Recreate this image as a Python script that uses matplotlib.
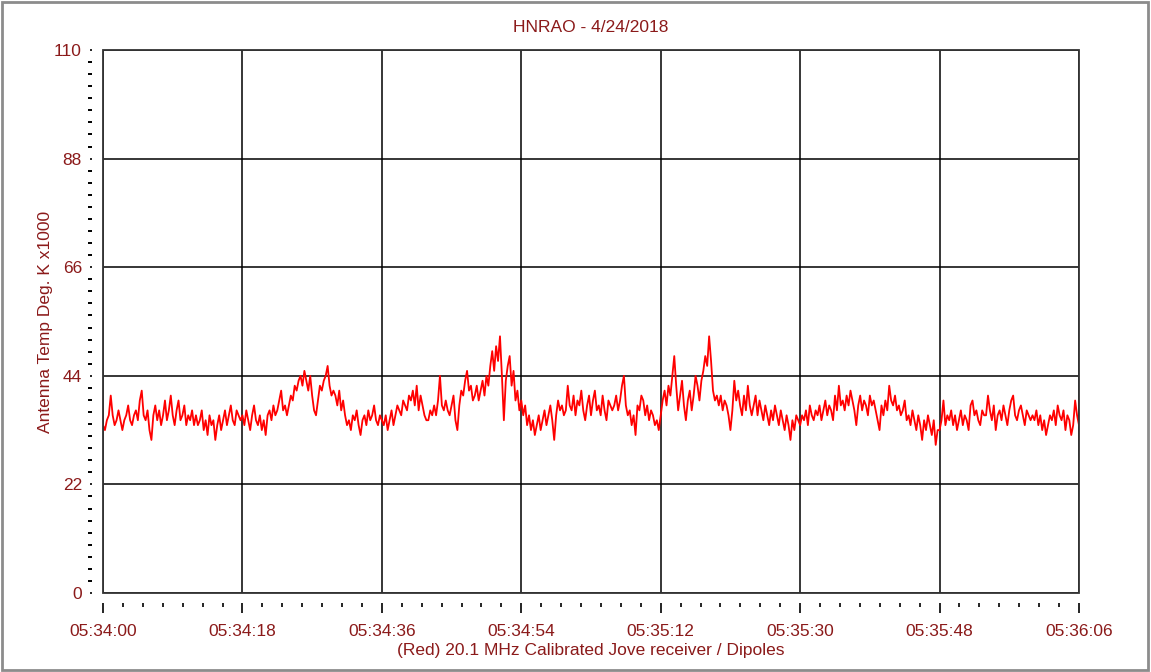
import numpy as np
import matplotlib
matplotlib.use("Agg")
import matplotlib.pyplot as plt
from matplotlib.ticker import FixedLocator, FuncFormatter
from matplotlib.patches import Rectangle

plt.rcParams['font.family'] = ['Liberation Sans', 'DejaVu Sans']

TITLE = "HNRAO - 4/24/2018"
XLABEL = "(Red) 20.1 MHz Calibrated Jove receiver / Dipoles"
YLABEL = "Antenna Temp Deg. K x1000"
START_MIN, START_SEC = 34, 0          # 05:34:00
SAMPLE_STEP = 0.25                    # seconds between samples
Y_TICKS = [0, 22, 44, 66, 88, 110]
X_TICKS = [0, 18, 36, 54, 72, 90, 108, 126]

# antenna temperature (K x1000), one row = 6 s
temps = [
    34, 33, 35, 36, 40, 36, 34, 35, 37, 35, 33, 35, 36, 38, 35, 34, 36, 37, 35, 39, 41, 36, 35, 37,
    33, 31, 36, 38, 35, 37, 34, 36, 39, 35, 37, 40, 36, 34, 37, 39, 35, 36, 38, 34, 36, 35, 37, 34,
    36, 34, 35, 37, 33, 35, 32, 36, 34, 35, 31, 34, 36, 33, 35, 37, 34, 36, 38, 35, 34, 37, 36, 35,
    36, 34, 37, 35, 33, 36, 38, 35, 34, 36, 33, 35, 32, 36, 37, 35, 38, 36, 37, 39, 41, 37, 38, 36,
    38, 40, 39, 42, 41, 43, 44, 42, 45, 43, 41, 44, 40, 37, 36, 39, 42, 41, 43, 44, 46, 42, 40, 41,
    40, 38, 41, 37, 39, 36, 34, 35, 33, 36, 35, 37, 34, 32, 35, 36, 34, 37, 35, 36, 38, 35, 34, 36,
    35, 34, 36, 33, 35, 37, 34, 36, 38, 37, 36, 39, 38, 37, 40, 39, 41, 38, 42, 37, 40, 38, 36, 35,
    35, 37, 36, 38, 36, 39, 44, 38, 37, 39, 37, 36, 38, 40, 35, 33, 38, 41, 40, 43, 45, 41, 42, 39,
    40, 42, 39, 41, 43, 40, 44, 42, 46, 49, 45, 50, 47, 52, 44, 35, 43, 46, 48, 42, 45, 39, 41, 37,
    39, 36, 38, 34, 36, 33, 35, 32, 34, 36, 33, 35, 37, 34, 36, 38, 35, 31, 36, 39, 37, 38, 36, 37,
    42, 38, 37, 40, 36, 39, 38, 41, 37, 35, 38, 40, 36, 39, 41, 37, 38, 36, 40, 37, 35, 39, 38, 37,
    38, 40, 37, 39, 42, 44, 38, 36, 37, 34, 36, 32, 38, 37, 40, 39, 36, 38, 35, 37, 36, 34, 35, 33,
    36, 39, 41, 38, 42, 40, 44, 48, 42, 37, 40, 43, 38, 35, 39, 41, 37, 40, 44, 42, 39, 43, 45, 48,
    46, 52, 47, 41, 39, 40, 38, 40, 37, 39, 38, 36, 33, 37, 43, 39, 41, 38, 36, 40, 37, 42, 38, 36,
    38, 40, 36, 39, 37, 35, 38, 36, 34, 37, 35, 38, 36, 34, 37, 35, 33, 36, 34, 31, 35, 33, 36, 35,
    34, 36, 35, 37, 34, 38, 36, 35, 37, 36, 38, 35, 37, 39, 36, 38, 37, 35, 40, 37, 42, 38, 39, 37,
    40, 38, 41, 39, 37, 34, 38, 40, 37, 39, 38, 36, 40, 38, 39, 37, 35, 33, 38, 36, 39, 37, 42, 39,
    38, 40, 37, 38, 36, 37, 39, 35, 36, 34, 37, 35, 33, 36, 34, 31, 35, 33, 36, 34, 32, 35, 30, 33,
    33, 35, 39, 34, 36, 35, 37, 34, 36, 33, 35, 37, 34, 36, 35, 33, 38, 39, 36, 37, 35, 34, 37, 36,
    36, 40, 37, 35, 38, 33, 36, 37, 35, 38, 36, 34, 37, 39, 40, 36, 35, 37, 38, 36, 34, 37, 36, 35,
    36, 35, 37, 34, 36, 33, 35, 32, 34, 36, 35, 37, 34, 38, 36, 35, 37, 33, 36, 35, 32, 34, 39, 36,
    34,
]

TEXT_COLOR = "#8b1a1a"


def fmt_time(s, pos=None):
    total = START_MIN * 60 + START_SEC + int(round(s))
    return "05:%02d:%02d" % (total // 60, total % 60)


def main():
    t = np.arange(len(temps)) * SAMPLE_STEP

    fig = plt.figure(figsize=(11.51, 6.72), dpi=100)
    ax = fig.add_axes([103 / 1151, 79 / 672, 976 / 1151, 543 / 672])

    ax.plot(t, temps, color="#ff0000", linewidth=1.3, zorder=3)

    ax.set_xlim(0, 126)
    ax.set_ylim(0, 110)

    ax.xaxis.set_major_locator(FixedLocator(X_TICKS))
    ax.xaxis.set_minor_locator(FixedLocator(
        [x for x in np.arange(0, 126.01, 18 / 7) if min(abs(x - m) for m in X_TICKS) > 0.1]))
    ax.xaxis.set_major_formatter(FuncFormatter(fmt_time))
    ax.yaxis.set_major_locator(FixedLocator(Y_TICKS))
    ax.yaxis.set_minor_locator(FixedLocator(
        [y for y in np.arange(0, 110.01, 22 / 9) if min(abs(y - m) for m in Y_TICKS) > 0.1]))

    ax.grid(True, which="major", color="black", linewidth=1.1, zorder=1)
    ax.set_axisbelow(True)

    # ticks sit detached from the frame, as in the original software
    ax.spines["bottom"].set_position(("outward", 7))
    ax.spines["left"].set_position(("outward", 8))
    for side in ["bottom", "left", "top", "right"]:
        ax.spines[side].set_visible(False)
    ax.add_patch(Rectangle((0, 0), 1, 1, transform=ax.transAxes, fill=False,
                           edgecolor="#333333", linewidth=1.3, zorder=4, clip_on=False))

    ax.tick_params(axis="x", which="major", direction="out", length=7, width=1.2,
                   color="black", pad=8, labelsize=12.5, labelcolor=TEXT_COLOR)
    ax.tick_params(axis="x", which="minor", direction="out", length=3, width=1.2, color="black")
    ax.tick_params(axis="y", which="major", direction="out", length=1.2, width=1.2,
                   color="black", pad=6, labelsize=12.5, labelcolor=TEXT_COLOR)
    ax.tick_params(axis="y", which="minor", direction="out", length=3, width=1.4, color="black")

    fig.text(591 / 1151, 1 - 28 / 672, TITLE, ha="center", va="center",
             fontsize=12.5, color=TEXT_COLOR)
    fig.text(591 / 1151, 1 - 650 / 672, XLABEL, ha="center", va="center",
             fontsize=12.5, color=TEXT_COLOR)
    fig.text(46 / 1151, 1 - 322 / 672, YLABEL, ha="center", va="center",
             rotation=90, fontsize=12.5, color=TEXT_COLOR)

    fig.patches.append(Rectangle((2 / 1151, 2 / 672), 1146 / 1151, 668 / 672,
                                 transform=fig.transFigure, fill=False,
                                 edgecolor="#8c8c8c", linewidth=2))

    fig.savefig("out.png", dpi=100)
    plt.close(fig)


if __name__ == "__main__":
    main()
